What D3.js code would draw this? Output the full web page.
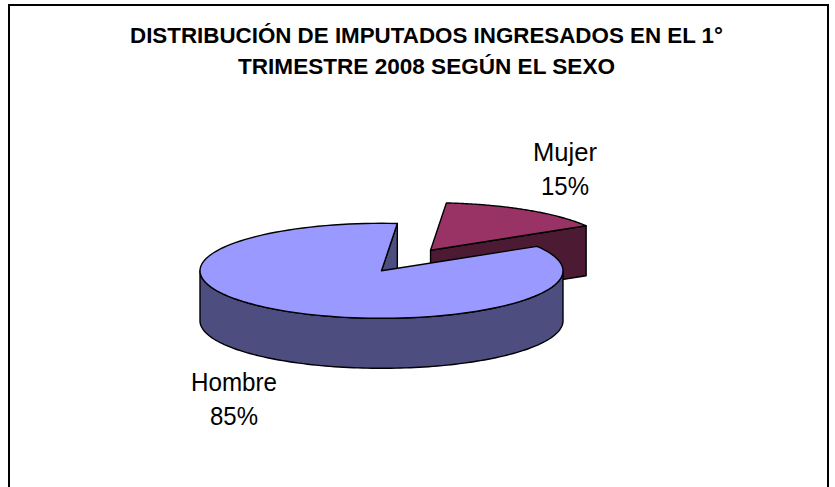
<!DOCTYPE html>
<html>
<head>
<meta charset="utf-8">
<script src="https://cdn.jsdelivr.net/npm/d3@7"></script>
<style>
  html, body { margin: 0; padding: 0; background: #fff; }
  svg { display: block; }
</style>
</head>
<body>
<div id="chart"></div>
<script>
// data
const categories = ["Hombre", "Mujer"];
const values = [85, 15];
const explodeBy = [0, 0.51];
const titleLines = ["DISTRIBUCIÓN DE IMPUTADOS INGRESADOS EN EL 1°", "TRIMESTRE 2008 SEGÚN EL SEXO"];

const topColors = ["#9999FF", "#993366"];
const sideColors = ["#4D4D80", "#4D1A33"];

const width = 835, height = 487;
const cx = 381.5, cy = 270.8, rx = 181.5, ry = 47.5, depth = 50;
const firstAngle = 59; // degrees, clockwise from 12 o'clock

const svg = d3.select("#chart").append("svg")
    .attr("width", width)
    .attr("height", height)
    .style("font-family", "'Liberation Sans', Arial, sans-serif");

svg.append("rect").attr("width", width).attr("height", height).attr("fill", "#fff");

// chart border (bottom runs off the picture)
svg.append("rect")
    .attr("x", 9).attr("y", 5)
    .attr("width", 819).attr("height", 520)
    .attr("fill", "none")
    .attr("stroke", "#000")
    .attr("stroke-width", 2);

// title
const titleWidths = [593, 377];
svg.selectAll(".title")
    .data(titleLines)
    .enter().append("text")
    .attr("class", "title")
    .attr("x", 426.5)
    .attr("y", (d, i) => 43 + i * 30.5)
    .attr("text-anchor", "middle")
    .attr("font-size", 22)
    .attr("font-weight", "bold")
    .attr("textLength", (d, i) => titleWidths[i])
    .attr("lengthAdjust", "spacingAndGlyphs")
    .text(d => d);

// pie layout
const rad = Math.PI / 180;
const pie = d3.pie().sort(null)
    .startAngle(firstAngle * rad)
    .endAngle((firstAngle + 360) * rad);
const arcs = pie(values).map((a, i) => {
    const mid = (a.startAngle + a.endAngle) / 2;
    const e = explodeBy[i];
    return {
        ...a, i, mid,
        ox: cx + e * rx * Math.sin(mid),
        oy: cy - e * ry * Math.cos(mid)
    };
});

const rim = (s, a, dz = 0) => [s.ox + rx * Math.sin(a), s.oy - ry * Math.cos(a) + dz];
const sample = (a0, a1) => d3.range(0, 1.0001, 1 / 120).map(t => a0 + (a1 - a0) * t);
const poly = d3.line();

// back slices first
const order = arcs.slice().sort((a, b) => d3.descending(Math.cos(a.mid), Math.cos(b.mid)));

const g = svg.append("g")
    .attr("stroke", "#000")
    .attr("stroke-width", 1.4)
    .attr("stroke-linejoin", "round");

order.forEach(s => {
    const side = sideColors[s.i];
    // radial faces that look toward the viewer
    [[s.startAngle, -Math.sin(s.startAngle)], [s.endAngle, Math.sin(s.endAngle)]].forEach(([a, ny]) => {
        if (ny <= 0) return;
        const p = rim(s, a), q = rim(s, a, depth);
        g.append("path")
            .attr("fill", side)
            .attr("d", poly([[s.ox, s.oy], p, q, [s.ox, s.oy + depth]]) + "Z");
    });
    // outer wall: front half only (90°..270°)
    const lo = Math.max(s.startAngle, 90 * rad), hi = Math.min(s.endAngle, 270 * rad);
    if (hi > lo) {
        const pts = sample(lo, hi).map(a => rim(s, a))
            .concat(sample(hi, lo).map(a => rim(s, a, depth)));
        g.append("path").attr("fill", side).attr("d", poly(pts) + "Z");
    }
    // top face
    const topPts = [[s.ox, s.oy]].concat(sample(s.startAngle, s.endAngle).map(a => rim(s, a)));
    g.append("path").attr("fill", topColors[s.i]).attr("d", poly(topPts) + "Z");
});

// data labels
const labelPos = { "Hombre": [234, 391], "Mujer": [565, 161] };
const labelWidths = { "Hombre": [86, 48], "Mujer": [64, 48] };
const total = d3.sum(values);
categories.forEach((c, i) => {
    const [lx, ly] = labelPos[c];
    const lines = [c, Math.round(values[i] / total * 100) + "%"];
    lines.forEach((t, k) => {
        svg.append("text")
            .attr("x", lx)
            .attr("y", ly + k * 34)
            .attr("text-anchor", "middle")
            .attr("font-size", 25)
            .attr("textLength", labelWidths[c][k])
            .attr("lengthAdjust", "spacingAndGlyphs")
            .attr("fill", "#000")
            .text(t);
    });
});
</script>
</body>
</html>
